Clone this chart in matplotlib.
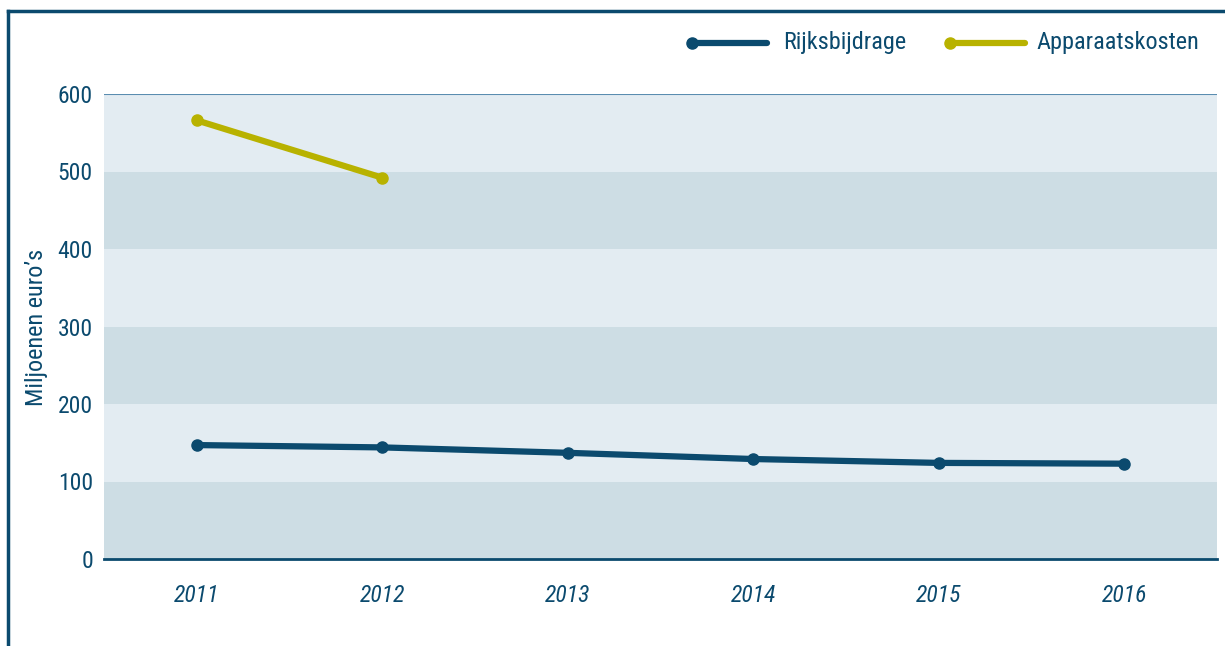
import matplotlib
matplotlib.use("Agg")
import matplotlib.pyplot as plt
from matplotlib.lines import Line2D
import numpy as np

# Data
years = ['2011', '2012', '2013', '2014', '2015', '2016']
rijksbijdrage = [147, 144, 137, 129, 124, 123]
apparaatskosten = [566, 492]
yticks = [0, 100, 200, 300, 400, 500, 600]

navy = '#0b4a6e'
olive = '#b8b200'
band_dark = '#cddde4'
band_light = '#e3ecf2'

# condensed sans first (Univers Condensed look-alike), DejaVu as last resort
plt.rcParams['font.family'] = ['Roboto Condensed', 'Archivo Narrow',
                               'PT Sans Narrow', 'Liberation Sans Narrow',
                               'DejaVu Sans']

fig = plt.figure(figsize=(12.25, 6.46), dpi=100)
ax = fig.add_axes([104 / 1225, 87 / 646, 1113 / 1225, 465 / 646])

x = np.arange(len(years))

# Alternating horizontal bands
for i in range(len(yticks) - 1):
    ax.axhspan(yticks[i], yticks[i + 1],
               color=band_dark if i % 2 == 0 else band_light,
               lw=0, zorder=0)
ax.axhline(600, color='#5a8db0', lw=1.5, zorder=1)

ax.plot(x, rijksbijdrage, color=navy, lw=4.5, marker='o', ms=8,
        solid_capstyle='round', zorder=3)
ax.plot(x[:len(apparaatskosten)], apparaatskosten, color=olive, lw=4.5,
        marker='o', ms=8, solid_capstyle='round', zorder=3)

ax.set_xlim(-0.5, len(years) - 0.5)
ax.set_ylim(0, 600)
ax.set_xticks(x)
ax.set_xticklabels(years, fontstyle='italic', fontsize=17, color=navy)
ax.set_yticks(yticks)
ax.set_yticklabels([str(v) for v in yticks], fontsize=17, color=navy)
ax.tick_params(axis='both', length=0)
ax.tick_params(axis='x', pad=18)
ax.tick_params(axis='y', pad=8)

for side in ['top', 'right', 'left']:
    ax.spines[side].set_visible(False)
ax.spines['bottom'].set_color(navy)
ax.spines['bottom'].set_linewidth(2)

fig.text(37 / 1225, (646 - 327) / 646, 'Miljoenen euro\u2019s',
         rotation=90, ha='center', va='center', fontsize=17.5, color=navy)

# Legend drawn by hand: line with a dot at its left end
legend_y = (646 - 43) / 646
for x0, x1, tx, col, lab in [(692, 767, 783, navy, 'Rijksbijdrage'),
                             (950, 1025, 1036, olive, 'Apparaatskosten')]:
    fig.add_artist(Line2D([x0 / 1225, x1 / 1225], [legend_y, legend_y],
                          color=col, lw=4.5, solid_capstyle='round'))
    fig.add_artist(Line2D([x0 / 1225], [legend_y], color=col, marker='o',
                          ms=8, lw=0))
    fig.text(tx / 1225, legend_y, lab, ha='left', va='center',
             fontsize=17.5, color=navy)

# Outer frame (left and top)
fig.add_artist(Line2D([8 / 1225, 8 / 1225], [0, (646 - 11) / 646],
                      color=navy, lw=2.5))
fig.add_artist(Line2D([8 / 1225, 1], [(646 - 11) / 646, (646 - 11) / 646],
                      color=navy, lw=2.5))

fig.savefig('out.png', dpi=100)
